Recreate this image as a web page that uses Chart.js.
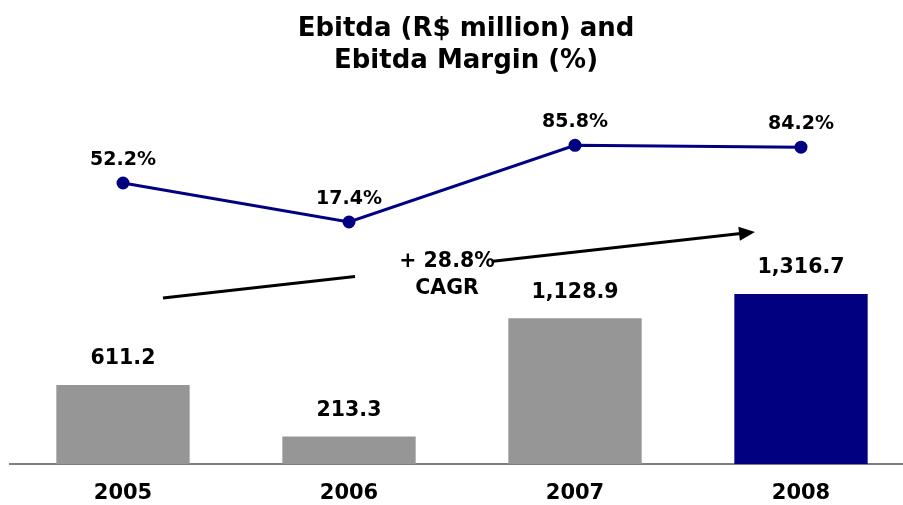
<!DOCTYPE html>
<html>
<head>
<meta charset="utf-8">
<script src="https://cdn.jsdelivr.net/npm/chart.js@4/dist/chart.umd.min.js"></script>
<style>
  html, body { margin: 0; padding: 0; background: #fff; overflow: hidden; }
  canvas { display: block; }
</style>
</head>
<body>
<canvas id="ebitda-chart" width="922" height="505"></canvas>
<script>
const years = ["2005", "2006", "2007", "2008"];
const ebitdaValues = [611.2, 213.3, 1128.9, 1316.7];
const marginValues = [52.2, 17.4, 85.8, 84.2];
const barColors = ["#969696", "#969696", "#969696", "#000080"];
const titleLines = ["Ebitda (R$ million) and", "Ebitda Margin (%)"];
const cagrLines = ["+ 28.8%", "CAGR"];

const FONT = "'DejaVu Sans', Verdana, sans-serif";

// value labels above bars and points
const valueLabels = {
    id: "valueLabels",
    afterDatasetsDraw(chart) {
        const ctx = chart.ctx;
        ctx.save();
        ctx.fillStyle = "#000";
        ctx.textAlign = "center";
        ctx.textBaseline = "middle";
        chart.data.datasets.forEach((ds, i) => {
            const meta = chart.getDatasetMeta(i);
            meta.data.forEach((el, j) => {
                const v = ds.data[j];
                if (ds.type === "bar") {
                    ctx.font = "bold 20.5px " + FONT;
                    const txt = v.toLocaleString("en-US", { minimumFractionDigits: 1 });
                    ctx.fillText(txt, el.x, el.y - 26);
                } else {
                    ctx.font = "bold 19px " + FONT;
                    ctx.fillText(v.toFixed(1) + "%", el.x, el.y - 23);
                }
            });
        });
        ctx.restore();
    }
};

// CAGR arrow with text in the gap
const cagrArrow = {
    id: "cagrArrow",
    afterDatasetsDraw(chart) {
        const ctx = chart.ctx;
        const x = chart.scales.x;
        const x0 = x.getPixelForValue(0) + 40, y0 = 298;
        const x1 = x.getPixelForValue(3) - 46, y1 = 232;
        const slope = (y1 - y0) / (x1 - x0);
        const gapA = 355, gapB = 493;
        ctx.save();
        ctx.strokeStyle = "#000";
        ctx.lineWidth = 3;
        ctx.beginPath();
        ctx.moveTo(x0, y0);
        ctx.lineTo(gapA, y0 + slope * (gapA - x0));
        ctx.moveTo(gapB, y0 + slope * (gapB - x0));
        ctx.lineTo(x1 - 12, y1 - slope * 12);
        ctx.stroke();
        // head
        const ang = Math.atan(slope);
        ctx.fillStyle = "#000";
        ctx.beginPath();
        ctx.moveTo(x1, y1);
        ctx.lineTo(x1 - 16 * Math.cos(ang) + 7 * Math.sin(ang), y1 - 16 * Math.sin(ang) - 7 * Math.cos(ang));
        ctx.lineTo(x1 - 16 * Math.cos(ang) - 7 * Math.sin(ang), y1 - 16 * Math.sin(ang) + 7 * Math.cos(ang));
        ctx.closePath();
        ctx.fill();
        ctx.font = "bold 20.5px " + FONT;
        ctx.textAlign = "center";
        ctx.textBaseline = "middle";
        ctx.fillText(cagrLines[0], 447, 262);
        ctx.fillText(cagrLines[1], 447, 289);
        ctx.restore();
    }
};

new Chart(document.getElementById("ebitda-chart"), {
    data: {
        labels: years,
        datasets: [
            {
                type: "line",
                data: marginValues,
                yAxisID: "y1",
                borderColor: "#000080",
                backgroundColor: "#000080",
                borderWidth: 3,
                pointRadius: 5,
                pointBackgroundColor: "#000080",
                tension: 0
            },
            {
                type: "bar",
                data: ebitdaValues,
                yAxisID: "y",
                backgroundColor: barColors,
                barPercentage: 0.59,
                categoryPercentage: 1
            }
        ]
    },
    options: {
        responsive: false,
        animation: false,
        layout: { padding: { left: 10, right: 0, top: 0, bottom: 0 } },
        plugins: {
            legend: { display: false },
            tooltip: { enabled: false },
            title: {
                display: true,
                text: titleLines,
                color: "#000",
                font: { family: FONT, size: 26, weight: "bold", lineHeight: 1.23 },
                padding: { top: 13, bottom: 23 }
            }
        },
        scales: {
            x: {
                offset: true,
                grid: { display: false, drawTicks: false },
                border: { display: true, color: "#7f7f7f", width: 2 },
                ticks: { color: "#000", font: { family: FONT, size: 21, weight: "bold" }, padding: 17 },
                afterFit(scale) { scale.height = 41; }
            },
            y: { display: false, min: 0, max: 2820 },
            y1: { display: false, min: -198.5, max: 126.3 }
        }
    },
    plugins: [valueLabels, cagrArrow]
});
</script>
</body>
</html>
